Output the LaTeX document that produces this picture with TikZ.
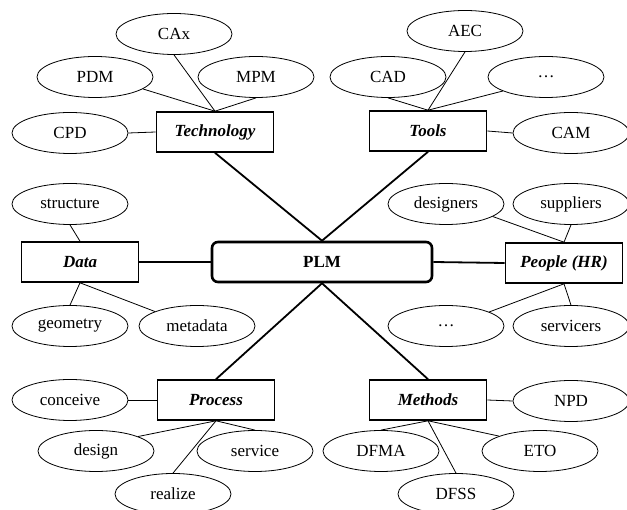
\documentclass[tikz,border=0pt]{standalone}
\usepackage{fontspec}
\setmainfont{Liberation Serif}
\usepackage{tikz}
\usetikzlibrary{shapes.geometric}

\begin{document}
\begin{tikzpicture}[x=1pt, y=-1pt,
    leaf/.style={ellipse, draw, line width=0.8pt, minimum width=116pt, minimum height=41pt, inner sep=0pt, font=\fontsize{17}{20}\selectfont},
    area/.style={draw, line width=1.6pt, minimum width=117pt, minimum height=40pt, inner sep=0pt, font=\fontsize{17}{20}\selectfont\bfseries\itshape},
    core/.style={draw, line width=2.6pt, rounded corners=6pt, minimum width=220pt, minimum height=40pt, font=\fontsize{17}{20}\selectfont\bfseries},
    spoke/.style={line width=1.8pt},
    twig/.style={line width=0.8pt}]
    \clip (0,0) rectangle (627,510);

    % centre and the six areas
    \node[core] (plm) at (322,262) {PLM};
    \node[area] (tech) at (215,132) {Technology};
    \node[area] (tools) at (428,131) {Tools};
    \node[area] (data) at (80,262) {Data};
    \node[area] (people) at (564,263) {People (HR)};
    \node[area] (proc) at (216,400) {Process};
    \node[area] (meth) at (428,400) {Methods};

    % leaves
    \node[leaf] (cax) at (174,34) {CAx};
    \node[leaf] (pdm) at (95,77) {PDM};
    \node[leaf] (mpm) at (256,77) {MPM};
    \node[leaf] (cpd) at (70,133) {CPD};
    \node[leaf] (aec) at (465,31) {AEC};
    \node[leaf] (cad) at (388,77) {CAD};
    \node[leaf] (tmore) at (546,77) {\dots};
    \node[leaf] (cam) at (571,133) {CAM};
    \node[leaf] (struct) at (70,204) {structure};
    \node[leaf] (geom) at (70,326) {geometry};
    \node[leaf] (meta) at (197,326) {metadata};
    \node[leaf] (desig) at (446,204) {designers};
    \node[leaf] (suppl) at (571,204) {suppliers};
    \node[leaf] (pmore) at (446,326) {\dots};
    \node[leaf] (servi) at (571,326) {servicers};
    \node[leaf] (conc) at (70,400) {conceive};
    \node[leaf] (design) at (96,451) {design};
    \node[leaf] (serv) at (255,451) {service};
    \node[leaf] (real) at (173,494) {realize};
    \node[leaf] (npd) at (571,401) {NPD};
    \node[leaf] (dfma) at (381,451) {DFMA};
    \node[leaf] (eto) at (540,451) {ETO};
    \node[leaf] (dfss) at (456,494) {DFSS};

    % spokes
    \draw[spoke] (plm.north) -- (tech.south);
    \draw[spoke] (plm.north) -- (tools.south);
    \draw[spoke] (plm.south) -- (proc.north);
    \draw[spoke] (plm.south) -- (meth.north);
    \draw[spoke] (plm.west) -- (data.east);
    \draw[spoke] (plm.east) -- (people.west);

    % twigs
    \draw[twig] (tech.north) -- (cax.south);
    \draw[twig] (tech.north) -- (pdm.-14);
    \draw[twig] (tech.north) -- (mpm.south);
    \draw[twig] (tech.west) -- (cpd.east);
    \draw[twig] (tools.north) -- (aec.south);
    \draw[twig] (tools.north) -- (cad.south);
    \draw[twig] (tools.north) -- (tmore.198);
    \draw[twig] (tools.east) -- (cam.west);
    \draw[twig] (data.north) -- (struct.south);
    \draw[twig] (data.south) -- (geom.north);
    \draw[twig] (data.south) -- (meta.161);
    \draw[twig] (people.north) -- (desig.-15);
    \draw[twig] (people.north) -- (suppl.south);
    \draw[twig] (people.south) -- (pmore.18);
    \draw[twig] (people.south) -- (servi.north);
    \draw[twig] (proc.west) -- (conc.east);
    \draw[twig] (proc.south) -- (design.19);
    \draw[twig] (proc.south) -- (serv.north);
    \draw[twig] (proc.south) -- (real.north);
    \draw[twig] (meth.east) -- (npd.west);
    \draw[twig] (meth.south) -- (dfma.north);
    \draw[twig] (meth.south) -- (eto.160);
    \draw[twig] (meth.south) -- (dfss.north);
\end{tikzpicture}
\end{document}
